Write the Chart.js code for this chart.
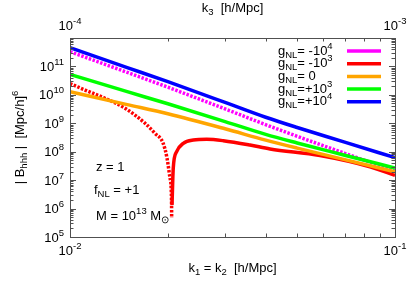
<!DOCTYPE html>
<html><head><meta charset="utf-8">
<script src="https://cdn.jsdelivr.net/npm/chart.js@4/dist/chart.umd.min.js"></script>
<style>html,body{margin:0;padding:0;background:#fff}canvas{display:block}</style>
</head><body>
<canvas id="c" width="415" height="291"></canvas>
<script>
// ---- data ----
const kGrid = [0.01, 0.015, 0.02, 0.03, 0.04, 0.05, 0.07, 0.1];
const gMinus1e4 = [3.30e11, 6.17e10, 1.87e10, 3.21e9, 8.91e8, 3.48e8, 8.79e7, 2.10e7]; // |B|, negative
const gZero     = [1.29e10, 4.54e9, 2.16e9, 6.40e8, 2.56e8, 1.34e8, 5.28e7, 1.98e7];
const gPlus1e3  = [5.28e10, 1.30e10, 4.85e9, 1.15e9, 4.06e8, 2.03e8, 7.55e7, 2.67e7];
const gPlus1e4  = [4.56e11, 9.10e10, 2.90e10, 5.43e9, 1.63e9, 7.11e8, 2.18e8, 6.17e7];
const kRedNeg   = [0.01, 0.01112, 0.01281, 0.01476, 0.01702, 0.01826, 0.01933, 0.01988, 0.02031, 0.02053, 0.02055];
const gMinus1e3Neg = [2.5e10, 1.48e10, 7.6e9, 3.4e9, 1.0e9, 4.45e8, 2.03e8, 6.0e7, 1.19e7, 2.0e6, 4.7e5];
const kRedPos   = [0.0206, 0.02078, 0.02129, 0.02232, 0.02396, 0.02634, 0.02963, 0.0358, 0.04125, 0.05878, 0.08377, 0.1];
const gMinus1e3Pos = [1.34e6, 2.6e7, 1.0e8, 1.98e8, 2.58e8, 2.73e8, 2.44e8, 1.72e8, 1.25e8, 7.4e7, 2.97e7, 1.46e7];
const xTickExps = [-2, -1];
const topTickExps = [-4, -3];
const yTickExps = [5, 6, 7, 8, 9, 10, 11];
const legendLabels = [[' -10', '4'], [' -10', '3'], [' 0', ''], ['+10', '3'], ['+10', '4']];
const legendColors = ['#ff00ff', '#ff0000', '#ffa500', '#00ff00', '#0000ff'];

const pts = (xs, ys) => xs.map((v, i) => ({x: v, y: ys[i]}));
const FONT = '"Liberation Sans", Arial, sans-serif';
const BIG = 13, SMALL = 9.5;

function rich(ctx, parts, x, y, align) {
  let w = 0;
  for (const [t, m] of parts) { ctx.font = (m ? SMALL : BIG) + 'px ' + FONT; w += ctx.measureText(t).width; }
  let cx = align === 'right' ? x - w : align === 'center' ? x - w / 2 : x;
  ctx.textAlign = 'left'; ctx.textBaseline = 'middle'; ctx.fillStyle = '#000';
  for (const [t, m] of parts) {
    ctx.font = (m ? SMALL : BIG) + 'px ' + FONT;
    ctx.fillText(t, cx, y + (m === 1 ? -5 : m === -1 ? 4 : 0));
    cx += ctx.measureText(t).width;
  }
  return w;
}

const decor = {
  id: 'decor',
  afterDatasetsDraw(chart) {
    const {ctx, chartArea: a, scales: {x, y}} = chart;
    ctx.save();
    ctx.strokeStyle = '#505050'; ctx.lineWidth = 1;
    ctx.beginPath();
    for (let d = -2; d <= -1; d++) for (let m = 1; m <= 9; m++) {
      const v = m * Math.pow(10, d); if (v > 0.1000001) break;
      const px = Math.round(x.getPixelForValue(v)) + 0.5, L = m === 1 ? 6 : 3.5;
      ctx.moveTo(px, a.bottom); ctx.lineTo(px, a.bottom - L);
      ctx.moveTo(px, a.top); ctx.lineTo(px, a.top + L);
    }
    for (let d = 5; d <= 12; d++) for (let m = 1; m <= 9; m++) {
      const v = m * Math.pow(10, d); if (v > 1.000001e12) break;
      const py = Math.round(y.getPixelForValue(v)) + 0.5, L = m === 1 ? 6 : 3.5;
      ctx.moveTo(a.left, py); ctx.lineTo(a.left + L, py);
      ctx.moveTo(a.right, py); ctx.lineTo(a.right - L, py);
    }
    ctx.stroke();
    ctx.strokeRect(Math.round(a.left) + 0.5, Math.round(a.top) + 0.5, Math.round(a.right - a.left), Math.round(a.bottom - a.top));

    // tick labels
    xTickExps.forEach(e => rich(ctx, [['10', 0], [String(e), 1]], x.getPixelForValue(Math.pow(10, e)), a.bottom + 14, 'center'));
    topTickExps.forEach((e, i) => rich(ctx, [['10', 0], [String(e), 1]], x.getPixelForValue(Math.pow(10, xTickExps[i])), a.top - 12, 'center'));
    yTickExps.forEach(e => rich(ctx, [['10', 0], [String(e), 1]], a.left - 6, y.getPixelForValue(Math.pow(10, e)) + 1, 'right'));

    // axis titles
    rich(ctx, [['k', 0], ['1', -1], [' = k', 0], ['2', -1], ['  [h/Mpc]', 0]], (a.left + a.right) / 2, a.bottom + 31, 'center');
    rich(ctx, [['k', 0], ['3', -1], ['  [h/Mpc]', 0]], (a.left + a.right) / 2, 8, 'center');
    ctx.save();
    ctx.translate(20, (a.top + a.bottom) / 2);
    ctx.rotate(-Math.PI / 2);
    rich(ctx, [['| B', 0], ['hhh', -1], [' |  [Mpc/h]', 0], ['6', 1]], 0, 0, 'center');
    ctx.restore();

    // annotations
    rich(ctx, [['z = 1', 0]], 96, 167, 'left');
    rich(ctx, [['f', 0], ['NL', -1], [' = +1', 0]], 94, 190, 'left');
    rich(ctx, [['M = 10', 0], ['13', 1], [' M', 0], ['\u2299', -1]], 96, 216, 'left');

    // legend
    legendLabels.forEach((lab, i) => {
      const yy = 51 + i * 12.7;
      const parts = [['g', 0], ['NL', -1], ['=' + lab[0], 0]];
      if (lab[1]) parts.push([lab[1], 1]);
      rich(ctx, parts, 278, yy, 'left');
      ctx.strokeStyle = legendColors[i]; ctx.lineWidth = 3.5; ctx.setLineDash([]);
      ctx.beginPath(); ctx.moveTo(347, yy); ctx.lineTo(381, yy); ctx.stroke();
    });
    ctx.restore();
  }
};

const LW = 3.5, DASH = [2.5, 1.5];
new Chart(document.getElementById('c'), {
  type: 'line',
  data: {
    datasets: [
      {data: pts(kGrid, gMinus1e4), borderColor: '#ff00ff', borderDash: DASH, order: 6},
      {data: pts(kRedNeg, gMinus1e3Neg), borderColor: '#ff0000', borderDash: DASH, order: 5, cubicInterpolationMode: 'monotone'},
      {data: pts(kRedPos, gMinus1e3Pos), borderColor: '#ff0000', order: 4, cubicInterpolationMode: 'monotone'},
      {data: pts(kGrid, gZero), borderColor: '#ffa500', order: 3, cubicInterpolationMode: 'monotone'},
      {data: pts(kGrid, gPlus1e3), borderColor: '#00ff00', order: 2, cubicInterpolationMode: 'monotone'},
      {data: pts(kGrid, gPlus1e4), borderColor: '#0000ff', order: 1, cubicInterpolationMode: 'monotone'}
    ]
  },
  options: {
    responsive: false, animation: false, devicePixelRatio: 1,
    layout: {padding: {left: 70, right: 20, top: 38, bottom: 54}},
    elements: {line: {borderWidth: LW, fill: false, borderCapStyle: 'butt'}, point: {radius: 0}},
    plugins: {legend: {display: false}, tooltip: {enabled: false}},
    scales: {
      x: {type: 'logarithmic', min: 0.01, max: 0.1, display: false},
      y: {type: 'logarithmic', min: 1e5, max: 1e12, display: false}
    }
  },
  plugins: [decor]
});
</script>
</body></html>
